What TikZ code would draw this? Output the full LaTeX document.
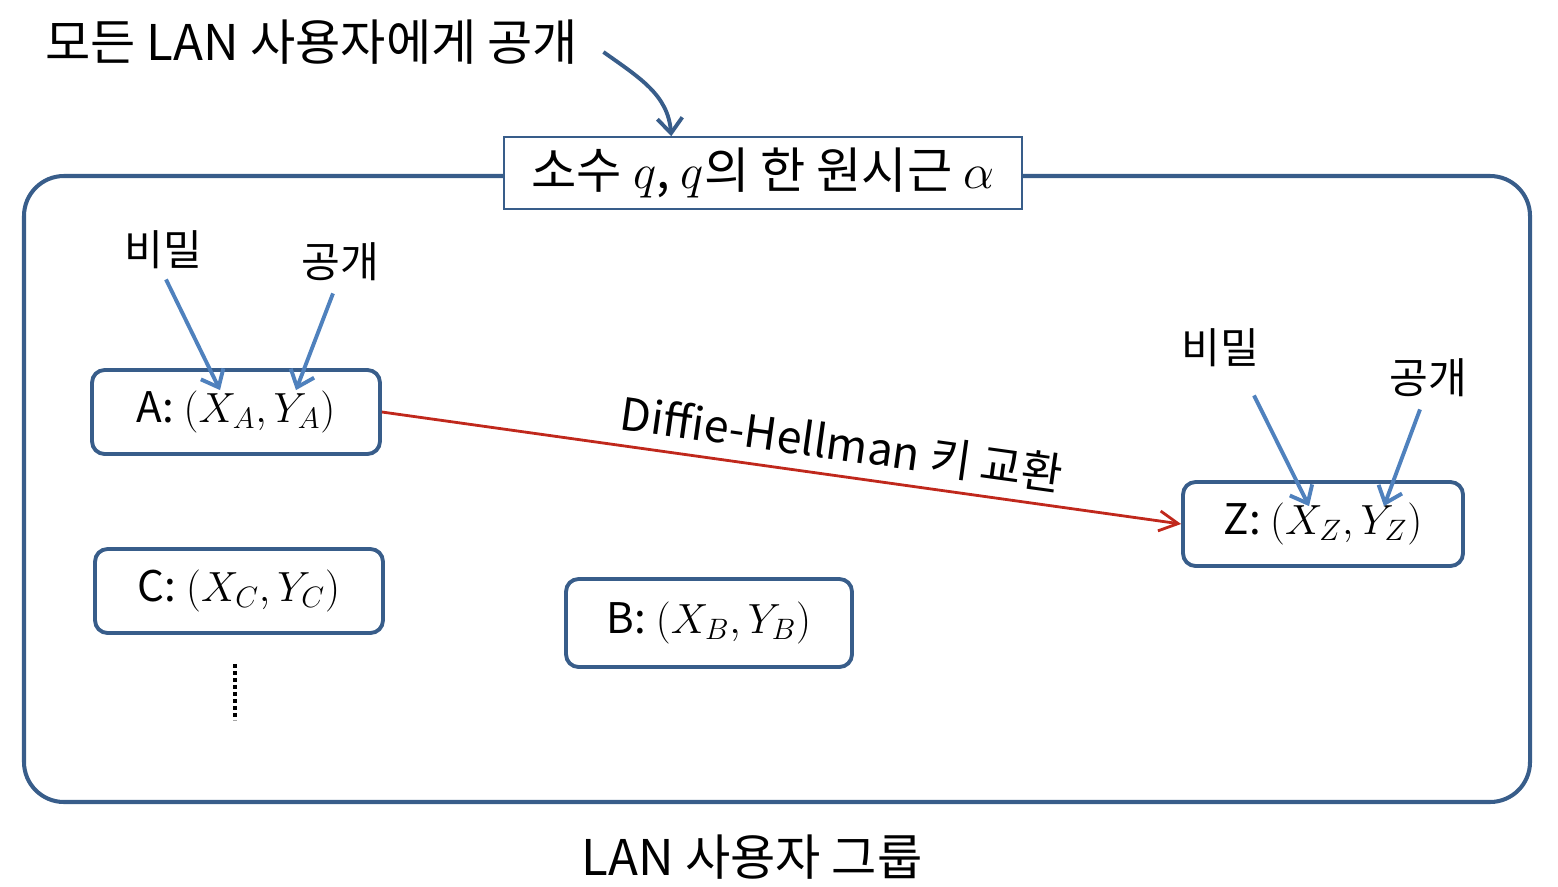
\RequirePackage{fix-cm}
\documentclass[tikz,border=0pt]{standalone}
\usepackage{fontspec}
\setmainfont{Noto Sans CJK KR}
\usetikzlibrary{arrows.meta, calc}

\definecolor{frameblue}{RGB}{56,93,138}
\definecolor{arrowblue}{RGB}{79,129,189}
\definecolor{dhred}{RGB}{192,40,28}

\begin{document}
\begin{tikzpicture}[x=0.02cm, y=-0.02cm,
  >={Straight Barb[length=0.3cm, width=0.5cm]},
  usrbox/.style={draw=frameblue, line width=2.2pt, rounded corners=0.25cm, fill=white,
    minimum width=5.76cm, minimum height=1.68cm, font=\fontsize{24}{28}\selectfont},
  tag/.style={font=\fontsize{24}{28}\selectfont, inner sep=0pt},
  big/.style={font=\fontsize{28}{32}\selectfont, inner sep=0pt},
  pubarrow/.style={->, draw=arrowblue, line width=2.2pt}]
  \useasboundingbox (0,0) rectangle (1558,886);

  % LAN 사용자 그룹 (바깥 틀)
  \draw[frameblue, line width=2.3pt, rounded corners=0.8cm] (24,176) rectangle (1530,802);
  \node[big] (grp) at (752,857) {LAN 사용자 그룹};

  % 공개 파라미터
  \node[draw=frameblue, line width=0.9pt, fill=white, minimum width=10.36cm, minimum height=1.44cm,
    font=\fontsize{28}{32}\selectfont] (prm) at (763,173) {소수 $q$, $q$의 한 원시근 $\alpha$};
  \node[big, anchor=west] (all) at (45,42) {모든 LAN 사용자에게 공개};
  \draw[->, frameblue, line width=2.2pt] ($(all.east)+(25,10)$) .. controls (640,78) and (668,95) .. ($(prm.north west)+(168,0)$);

  % 사용자
  \node[usrbox] (A) at (236,412) {A: $(X_A, Y_A)$};
  \node[usrbox] (C) at (239,591) {C: $(X_C, Y_C)$};
  \node[usrbox, minimum width=5.72cm, minimum height=1.76cm] (B) at (709,623) {B: $(X_B, Y_B)$};
  \node[usrbox, minimum width=5.6cm] (Z) at (1323,524) {Z: $(X_Z, Y_Z)$};
  \draw[line width=2.4pt, dash pattern=on 0.09cm off 0.05cm] ($(C.south)+(-4,29)$) -- ++(0,56);

  % 비밀 / 공개 키
  \node[tag] (secA) at (163,250) {비밀};
  \node[tag] (pubA) at (340,262) {공개};
  \node[tag] (secZ) at (1220,348) {비밀};
  \node[tag] (pubZ) at (1428,378) {공개};
  \draw[pubarrow] ($(secA.south)+(3,10)$) -- ($(A.north)+(-16,22)$);
  \draw[pubarrow] ($(pubA.south)+(-7,12)$) -- ($(A.north)+(60,22)$);
  \draw[pubarrow] ($(secZ.south)+(34,28)$) -- ($(Z.north)+(-14,26)$);
  \draw[pubarrow] ($(pubZ.south)+(-8,12)$) -- ($(Z.north)+(61,26)$);

  % 키 교환
  \draw[dhred, line width=1.6pt, -{Straight Barb[length=0.38cm, width=0.4cm]}] (A.east) --
    node[sloped, above=0.22cm, pos=0.57, inner sep=0pt, text=black, font=\fontsize{25.5}{30}\selectfont] (dhx) {Diffie-Hellman 키 교환} (Z.west);
\end{tikzpicture}
\end{document}
